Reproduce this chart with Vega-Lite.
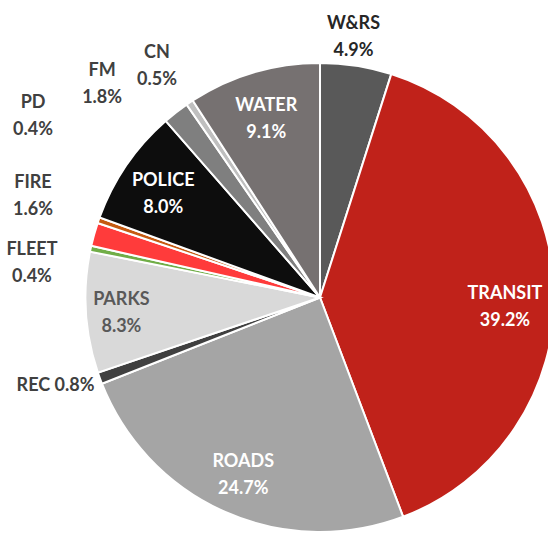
{
  "$schema": "https://vega.github.io/schema/vega-lite/v6.json",
  "width": 640,
  "height": 595,
  "padding": 0,
  "autosize": {"type": "none"},
  "background": "white",
  "view": {"stroke": null},
  "data": {
    "values": [
      {"name": "W&RS", "pct": 4.9, "order": 1},
      {"name": "TRANSIT", "pct": 39.2, "order": 2},
      {"name": "ROADS", "pct": 24.7, "order": 3},
      {"name": "REC", "pct": 0.8, "order": 4},
      {"name": "PARKS", "pct": 8.3, "order": 5},
      {"name": "FLEET", "pct": 0.4, "order": 6},
      {"name": "FIRE", "pct": 1.6, "order": 7},
      {"name": "PD", "pct": 0.4, "order": 8},
      {"name": "POLICE", "pct": 8.0, "order": 9},
      {"name": "FM", "pct": 1.8, "order": 10},
      {"name": "CN", "pct": 0.5, "order": 11},
      {"name": "WATER", "pct": 9.1, "order": 12}
    ]
  },
  "transform": [
    {"stack": "pct", "groupby": [], "sort": [{"field": "order", "order": "ascending"}], "as": ["t0", "t1"]},
    {"calculate": "(datum.t0 + datum.t1) / 2", "as": "tm"},
    {"calculate": "datum.name == 'REC' ? datum.name + ' ' + format(datum.pct, '.1f') + '%' : datum.name + '\\n' + format(datum.pct, '.1f') + '%'", "as": "label"}
  ],
  "config": {
    "text": {"font": "Lato", "fontWeight": "bold", "fontSize": 18, "lineBreak": "\n", "lineHeight": 27, "align": "center", "baseline": "middle"}
  },
  "layer": [
    {
      "mark": {"type": "arc", "outerRadius": 234.5, "stroke": "white", "strokeWidth": 2},
      "encoding": {
        "theta": {"field": "pct", "type": "quantitative", "stack": true},
        "order": {"field": "order", "type": "quantitative", "sort": "ascending"},
        "color": {
          "field": "name",
          "type": "nominal",
          "legend": null,
          "scale": {
            "domain": ["W&RS", "TRANSIT", "ROADS", "REC", "PARKS", "FLEET", "FIRE", "PD", "POLICE", "FM", "CN", "WATER"],
            "range": ["#595959", "#C0221A", "#A5A5A5", "#404040", "#D9D9D9", "#70AD47", "#FF3B3B", "#C55A11", "#0D0D0D", "#7F7F7F", "#BFBFBF", "#767171"]
          }
        }
      }
    },
    {
      "transform": [{"filter": "indexof(['ROADS','POLICE','WATER'], datum.name) >= 0"}],
      "mark": {"type": "text", "radius": 190, "dy": -9.5, "color": "white"},
      "encoding": {"theta": {"field": "tm", "type": "quantitative"}, "text": {"field": "label"}}
    },
    {
      "transform": [{"filter": "datum.name == 'TRANSIT'"}],
      "mark": {"type": "text", "radius": 190, "dx": -5, "dy": 1.5, "color": "white"},
      "encoding": {"theta": {"field": "tm", "type": "quantitative"}, "text": {"field": "label"}}
    },
    {
      "transform": [{"filter": "datum.name == 'PARKS'"}],
      "mark": {"type": "text", "radius": 190, "dx": -9, "dy": -9.5, "color": "#595959"},
      "encoding": {"theta": {"field": "tm", "type": "quantitative"}, "text": {"field": "label"}}
    },
    {
      "transform": [{"filter": "datum.name == 'W&RS'"}],
      "mark": {"type": "text", "radius": 270, "dx": -8, "dy": -6.5, "color": "#262626"},
      "encoding": {"theta": {"field": "tm", "type": "quantitative"}, "text": {"field": "label"}}
    },
    {
      "transform": [{"filter": "datum.name == 'CN'"}],
      "mark": {"type": "text", "radius": 270, "dx": -13, "dy": -20.5, "color": "#404040"},
      "encoding": {"theta": {"field": "tm", "type": "quantitative"}, "text": {"field": "label"}}
    },
    {
      "transform": [{"filter": "datum.name == 'FM'"}],
      "mark": {"type": "text", "radius": 270, "dx": -52, "dy": -13.5, "color": "#404040"},
      "encoding": {"theta": {"field": "tm", "type": "quantitative"}, "text": {"field": "label"}}
    },
    {
      "transform": [{"filter": "datum.name == 'PD'"}],
      "mark": {"type": "text", "radius": 270, "dx": -32, "dy": -105.5, "color": "#404040"},
      "encoding": {"theta": {"field": "tm", "type": "quantitative"}, "text": {"field": "label"}}
    },
    {
      "transform": [{"filter": "datum.name == 'FIRE'"}],
      "mark": {"type": "text", "radius": 270, "dx": -27, "dy": -41.5, "color": "#404040"},
      "encoding": {"theta": {"field": "tm", "type": "quantitative"}, "text": {"field": "label"}}
    },
    {
      "transform": [{"filter": "datum.name == 'FLEET'"}],
      "mark": {"type": "text", "radius": 270, "dx": -24, "dy": 8.5, "color": "#404040"},
      "encoding": {"theta": {"field": "tm", "type": "quantitative"}, "text": {"field": "label"}}
    },
    {
      "transform": [{"filter": "datum.name == 'REC'"}],
      "mark": {"type": "text", "radius": 270, "dx": -11, "dy": -4, "color": "#404040"},
      "encoding": {"theta": {"field": "tm", "type": "quantitative"}, "text": {"field": "label"}}
    }
  ]
}
